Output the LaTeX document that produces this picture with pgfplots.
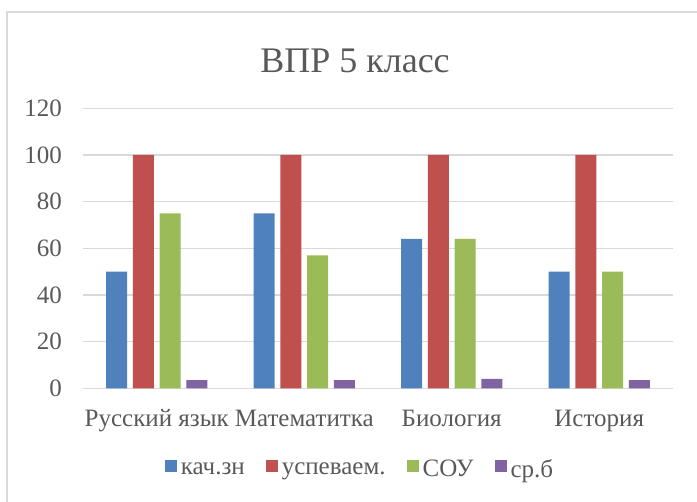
\documentclass[border=0pt]{standalone}
\usepackage{fontspec}
\setmainfont{Liberation Serif}
\usepackage{pgfplots}
\pgfplotsset{compat=1.18}
\definecolor{cblue}{HTML}{4F81BD}
\definecolor{cred}{HTML}{C0504D}
\definecolor{cgreen}{HTML}{9BBB59}
\definecolor{cpurple}{HTML}{8064A2}
\definecolor{tgray}{HTML}{595959}
\definecolor{gridgray}{HTML}{D9D9D9}
\pgfplotsset{sq/.style={legend image code/.code={\fill[##1,draw=none] (0pt,-3pt) rectangle (12pt,9pt);}}}
\begin{document}
\begin{tikzpicture}[x=1pt,y=1pt]
\useasboundingbox (0,0) rectangle (697,502);
\draw[color=gridgray, line width=1.5pt] (7,0) -- (7,490) -- (697,490);
\node[anchor=base, font=\fontsize{36}{40}\selectfont, text=tgray, inner sep=0pt] at (355,429) {ВПР 5 класс};
\begin{axis}[
  at={(83pt,113.7pt)}, anchor=south west,
  scale only axis, width=590pt, height=280pt,
  xmin=-0.5, xmax=3.5, ymin=0, ymax=120,
  ytick={0,20,...,120},
  xtick={0,1,2,3},
  xticklabels={Русский язык, Математитка, Биология, История},
  axis line style={draw=none},
  major tick length=0pt,
  ymajorgrids,
  grid style={color=gridgray, line width=1.5pt},
  /pgf/number format/assume math mode=true,
  every tick label/.append style={font=\fontsize{25}{30}\selectfont, text=tgray, inner sep=0pt},
  yticklabel style={xshift=-21pt},
  xticklabel style={anchor=base, yshift=-38.7pt},
  legend style={at={(0.4695,-0.288)}, anchor=center, draw=none, fill=none,
    legend columns=-1, font=\fontsize{25}{30}\selectfont, text=tgray,
    /tikz/every even column/.append style={column sep=19pt},
    /tikz/every odd column/.append style={column sep=2pt}},
]
\addplot[ybar, bar width=0.1424, bar shift=-0.2715, fill=cblue, draw=none, sq]
  coordinates {(0,50) (1,75) (2,64) (3,50)};
\addplot[ybar, bar width=0.1424, bar shift=-0.0905, fill=cred, draw=none, sq]
  coordinates {(0,100) (1,100) (2,100) (3,100)};
\addplot[ybar, bar width=0.1424, bar shift=0.0905, fill=cgreen, draw=none, sq]
  coordinates {(0,75) (1,57) (2,64) (3,50)};
\addplot[ybar, bar width=0.1424, bar shift=0.2715, fill=cpurple, draw=none, sq]
  coordinates {(0,3.5) (1,3.5) (2,4) (3,3.5)};
\legend{кач.зн, успеваем., СОУ, ср.б}
\end{axis}
\end{tikzpicture}
\end{document}
